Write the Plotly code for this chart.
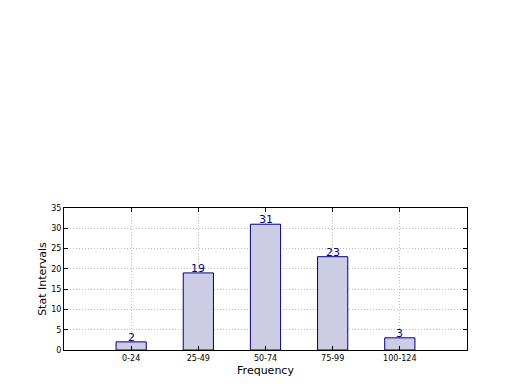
import plotly.graph_objects as go

categories = ["0-24", "25-49", "50-74", "75-99", "100-124"]
values = [2, 19, 31, 23, 3]
y_ticks = [0, 5, 10, 15, 20, 25, 30, 35]

xs = list(range(len(categories)))

fig = go.Figure()
fig.add_trace(go.Bar(
    x=xs, y=values, width=0.45,
    marker=dict(color="rgb(204,204,228)", line=dict(color="rgb(0,0,128)", width=1)),
    showlegend=False, hoverinfo="skip",
))

annotations = []
for x, v in zip(xs, values):
    annotations.append(dict(
        x=x, y=v, xref="x", yref="y", text=str(v), showarrow=False,
        yanchor="bottom", yshift=-4,
        font=dict(family="DejaVu Sans", size=11, color="rgb(0,0,128)"),
    ))

axis_common = dict(
    showline=True, linecolor="black", linewidth=1, mirror="allticks",
    ticks="inside", ticklen=4, tickcolor="black",
    showgrid=True, gridcolor="rgb(190,190,190)", griddash="1px,2px", gridwidth=1,
    zeroline=False,
    tickfont=dict(family="DejaVu Sans", size=8, color="black"),
)

fig.update_layout(
    width=520, height=390,
    margin=dict(l=64, r=53, t=208, b=40),
    paper_bgcolor="white", plot_bgcolor="white",
    font=dict(family="DejaVu Sans", color="black"),
    annotations=annotations,
    xaxis=dict(
        range=[-1, 5], tickvals=xs, ticktext=categories,
        title=dict(text="Frequency", font=dict(size=11), standoff=4),
        **axis_common,
    ),
    yaxis=dict(
        range=[0, 35], tickvals=y_ticks,
        title=dict(text="Stat Intervals", font=dict(size=11), standoff=2),
        **axis_common,
    ),
)

fig.write_html("out.html")
